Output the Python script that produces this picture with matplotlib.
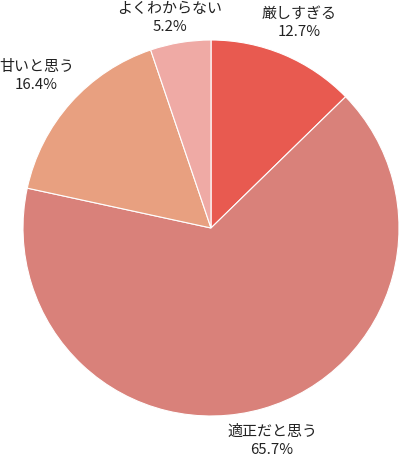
import matplotlib
matplotlib.use("Agg")
import matplotlib.pyplot as plt

plt.rcParams['font.family'] = ['Noto Sans CJK JP', 'DejaVu Sans']

labels = ['厳しすぎる', '適正だと思う', '甘いと思う', 'よくわからない']
values = [12.7, 65.7, 16.4, 5.2]
colors = ['#E85A50', '#D9817A', '#E8A080', '#EFAAA5']

fig = plt.figure(figsize=(4.0, 4.58), dpi=100)
ax = fig.add_axes([0, 0, 1, 1])

texts = [f'{l}\n{v}%' for l, v in zip(labels, values)]
# y axis points up, so the center is 458 - 228 from the bottom
wedges, lbls = ax.pie(values, colors=colors, startangle=90, counterclock=False,
                      center=(211, 230), radius=188, labels=texts, labeldistance=1.16,
                      wedgeprops=dict(edgecolor='white', linewidth=0.8),
                      textprops=dict(fontsize=10.8, color='#222222', ha='center',
                                     va='center', linespacing=1.4))
# small nudges to match label placement (dx right, dy down in pixels)
offs = [(3, -4), (1, 3), (-12, -7), (-6, 5)]
for t, (dx, dy) in zip(lbls, offs):
    x, y = t.get_position()
    t.set_position((x + dx, y - dy))
    t.set_horizontalalignment('center')

ax.set_xlim(0, 400)
ax.set_ylim(0, 458)
ax.set_aspect('auto')
ax.axis('off')

fig.savefig('out.png', dpi=100)
